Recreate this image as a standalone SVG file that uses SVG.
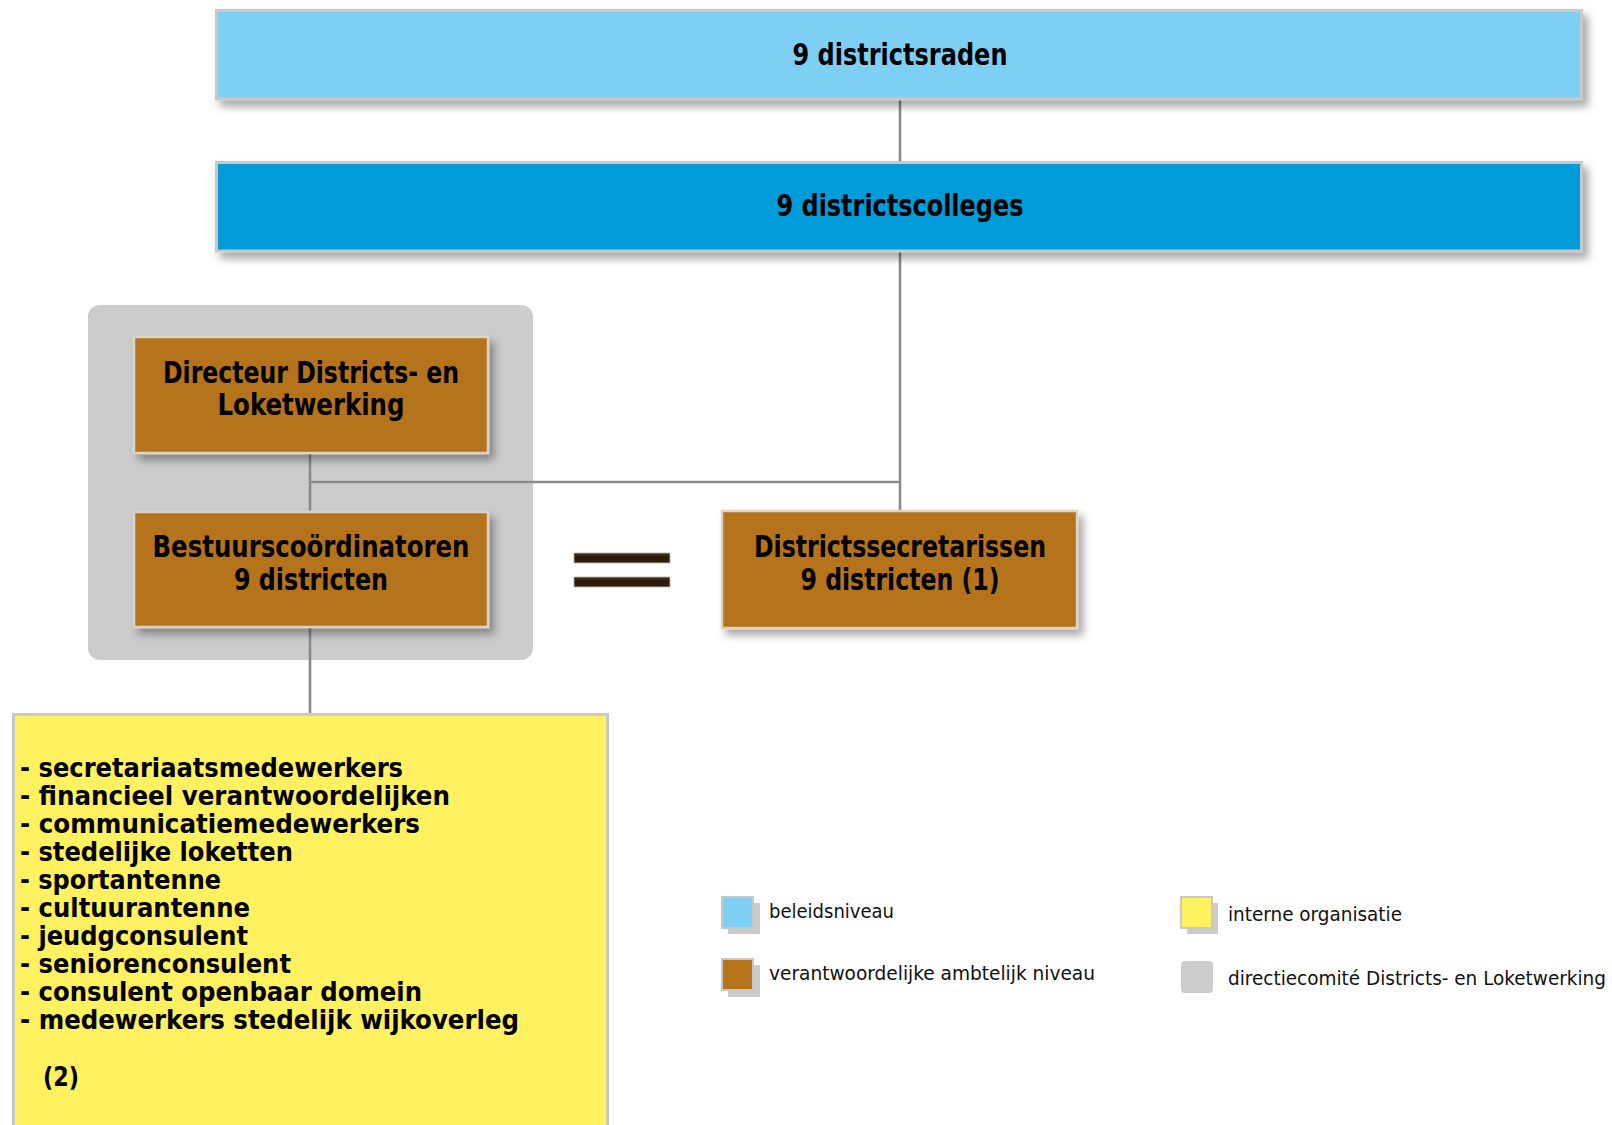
<svg xmlns="http://www.w3.org/2000/svg" width="1612" height="1125" viewBox="0 0 1612 1125">
<defs>
<filter id="sh" x="-10%" y="-20%" width="130%" height="150%">
<feDropShadow dx="5" dy="6" stdDeviation="4" flood-color="#000" flood-opacity="0.35"/>
</filter>
<linearGradient id="eq" x1="0" y1="0" x2="0" y2="1">
<stop offset="0" stop-color="#4a3016"/>
<stop offset="0.5" stop-color="#24160a"/>
<stop offset="1" stop-color="#3a260f"/>
</linearGradient>
</defs>
<style>
.b{font-family:"DejaVu Sans Condensed","Liberation Sans Narrow","Liberation Sans",sans-serif;font-weight:bold;fill:#000;}
.t{font-size:30px;text-anchor:middle;}
.l{font-size:26px;}
.g{font-family:"DejaVu Sans Condensed","DejaVu Sans","Liberation Sans",sans-serif;font-size:20px;fill:#111;}
.conn{stroke:#8a8a8a;stroke-width:2.6;fill:none;}
.brown{fill:#B5731A;stroke:#dcd3c6;stroke-width:2.5;}
</style>
<rect width="1612" height="1125" fill="#fff"/>

<g id="panel-directiecomite">
<rect x="88" y="305" width="445" height="355" rx="12" fill="#cccccc"/>
</g>

<g id="connectors">
<line class="conn" x1="900" y1="100" x2="900" y2="161"/>
<line class="conn" x1="900" y1="252" x2="900" y2="510"/>
<line class="conn" x1="310" y1="482" x2="900" y2="482"/>
<line class="conn" x1="310" y1="453" x2="310" y2="512"/>
<line class="conn" x1="310" y1="627" x2="310" y2="713"/>
</g>

<g id="districtsraden">
<rect x="216.5" y="10.5" width="1365" height="88.5" fill="#7DCFF3" stroke="#c8c8c8" stroke-width="3" filter="url(#sh)"/>
<text class="b t" x="900" y="65" textLength="215" lengthAdjust="spacingAndGlyphs">9 districtsraden</text>
</g>

<g id="districtscolleges">
<rect x="216.5" y="162.5" width="1365" height="88.5" fill="#009BD9" stroke="#c8c8c8" stroke-width="3" filter="url(#sh)"/>
<text class="b t" x="900" y="216" textLength="247" lengthAdjust="spacingAndGlyphs">9 districtscolleges</text>
</g>

<g id="directeur">
<rect class="brown" x="134" y="337" width="354" height="116" filter="url(#sh)"/>
<text class="b t" x="311" y="383" textLength="296" lengthAdjust="spacingAndGlyphs">Directeur Districts- en</text>
<text class="b t" x="311" y="415" textLength="187" lengthAdjust="spacingAndGlyphs">Loketwerking</text>
</g>

<g id="bestuurscoordinatoren">
<rect class="brown" x="134" y="512" width="354" height="115" filter="url(#sh)"/>
<text class="b t" x="311" y="557" textLength="317" lengthAdjust="spacingAndGlyphs">Bestuurscoördinatoren</text>
<text class="b t" x="311" y="590" textLength="154" lengthAdjust="spacingAndGlyphs">9 districten</text>
</g>

<g id="gelijk">
<rect x="574" y="553" width="96" height="10" fill="url(#eq)" stroke="#bdb6ae" stroke-width="0.8"/>
<rect x="574" y="577" width="96" height="10" fill="url(#eq)" stroke="#bdb6ae" stroke-width="0.8"/>
</g>

<g id="districtssecretarissen">
<rect class="brown" x="722" y="511" width="355" height="117" filter="url(#sh)"/>
<text class="b t" x="900" y="557" textLength="292" lengthAdjust="spacingAndGlyphs">Districtssecretarissen</text>
<text class="b t" x="900" y="590" textLength="199" lengthAdjust="spacingAndGlyphs">9 districten (1)</text>
</g>

<g id="interne-organisatie">
<rect x="13.5" y="714.5" width="594" height="420" fill="#FFF160" stroke="#c8c8c8" stroke-width="3"/>
<text class="b l" x="20" y="777" textLength="383" lengthAdjust="spacingAndGlyphs">- secretariaatsmedewerkers</text>
<text class="b l" x="20" y="805" textLength="430" lengthAdjust="spacingAndGlyphs">- financieel verantwoordelijken</text>
<text class="b l" x="20" y="833" textLength="400" lengthAdjust="spacingAndGlyphs">- communicatiemedewerkers</text>
<text class="b l" x="20" y="861" textLength="273" lengthAdjust="spacingAndGlyphs">- stedelijke loketten</text>
<text class="b l" x="20" y="889" textLength="201" lengthAdjust="spacingAndGlyphs">- sportantenne</text>
<text class="b l" x="20" y="917" textLength="230" lengthAdjust="spacingAndGlyphs">- cultuurantenne</text>
<text class="b l" x="20" y="945" textLength="228" lengthAdjust="spacingAndGlyphs">- jeudgconsulent</text>
<text class="b l" x="20" y="973" textLength="271" lengthAdjust="spacingAndGlyphs">- seniorenconsulent</text>
<text class="b l" x="20" y="1001" textLength="402" lengthAdjust="spacingAndGlyphs">- consulent openbaar domein</text>
<text class="b l" x="20" y="1029" textLength="499" lengthAdjust="spacingAndGlyphs">- medewerkers stedelijk wijkoverleg</text>
<text class="b l" x="43" y="1086" textLength="36" lengthAdjust="spacingAndGlyphs">(2)</text>
</g>

<g id="legend-beleidsniveau">
<rect x="728" y="903" width="32" height="31" fill="#cccccc"/>
<rect x="722" y="897" width="31" height="31" fill="#7DCFF3" stroke="#c8c8c8" stroke-width="2"/>
<text class="g" x="769" y="918" textLength="125" lengthAdjust="spacingAndGlyphs">beleidsniveau</text>
</g>
<g id="legend-ambtelijk">
<rect x="728" y="965" width="32" height="32" fill="#cccccc"/>
<rect x="722" y="959" width="31" height="31" fill="#B5731A" stroke="#c8c8c8" stroke-width="2"/>
<text class="g" x="769" y="980" textLength="326" lengthAdjust="spacingAndGlyphs">verantwoordelijke ambtelijk niveau</text>
</g>
<g id="legend-interne">
<rect x="1187" y="903" width="31" height="31" fill="#cccccc"/>
<rect x="1181" y="897" width="31" height="31" fill="#FFF160" stroke="#c8c8c8" stroke-width="2"/>
<text class="g" x="1228" y="921" textLength="174" lengthAdjust="spacingAndGlyphs">interne organisatie</text>
</g>
<g id="legend-directiecomite">
<rect x="1181" y="961" width="32" height="32" rx="4" fill="#cccccc"/>
<text class="g" x="1228" y="985" textLength="378" lengthAdjust="spacingAndGlyphs">directiecomité Districts- en Loketwerking</text>
</g>
</svg>
